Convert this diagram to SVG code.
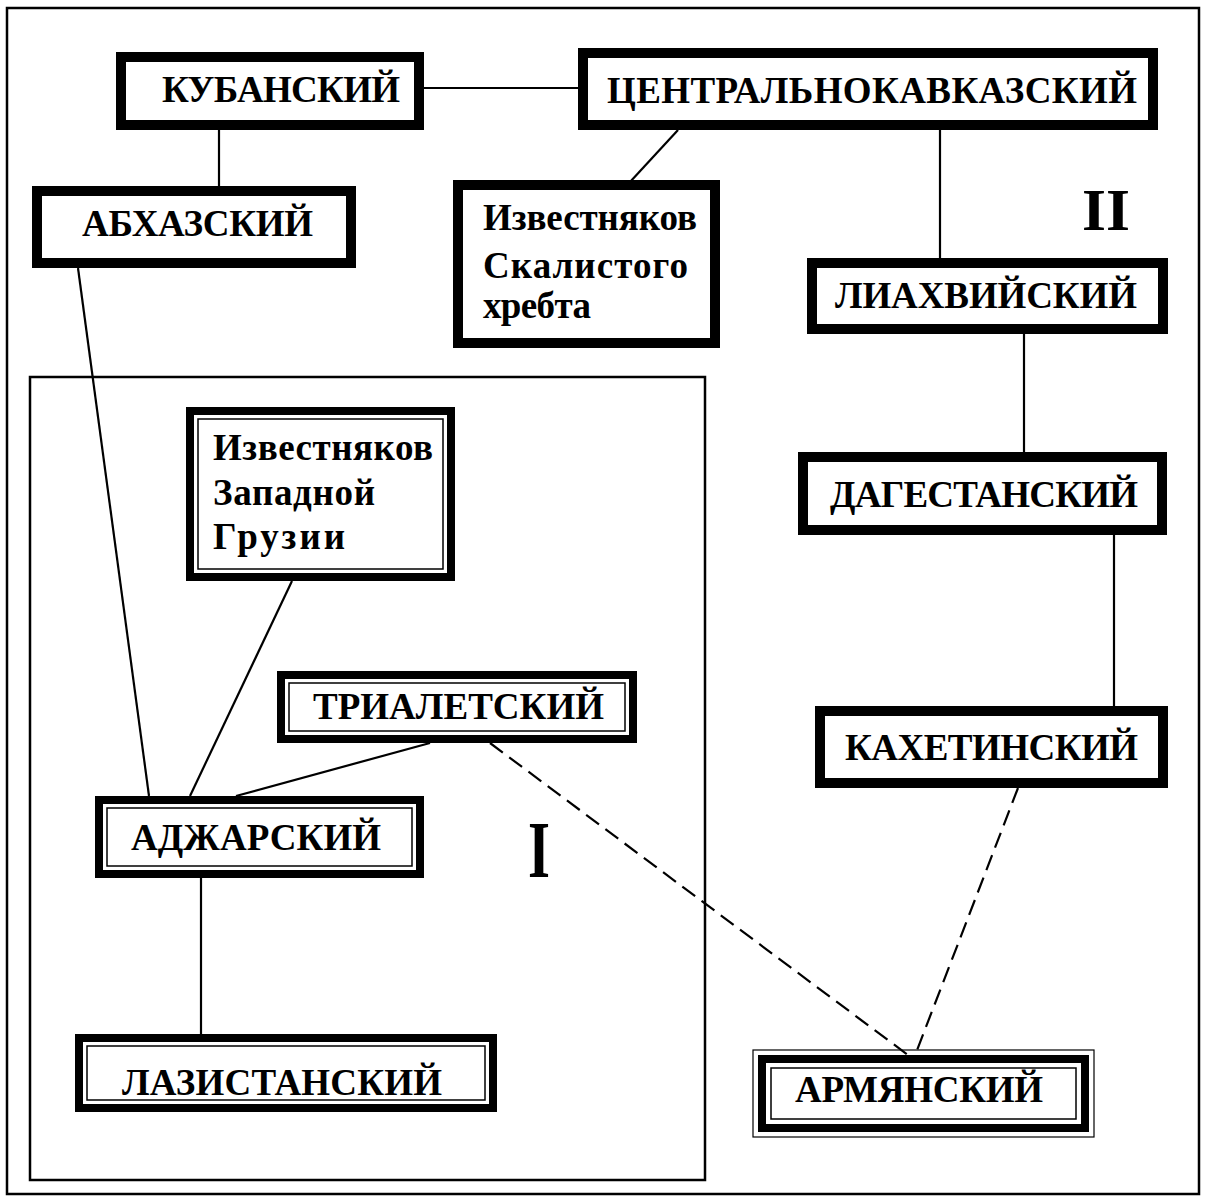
<svg xmlns="http://www.w3.org/2000/svg" width="1206" height="1202" viewBox="0 0 1206 1202">
<style>
.bg{fill:#fff}
.frame{fill:none;stroke:#000;stroke-width:2.5}
.thick{fill:#fff;stroke:#000;stroke-width:10}
.dbl{fill:#fff;stroke:#000;stroke-width:8}
.thin{fill:none;stroke:#000;stroke-width:1.5}
.hair{fill:none;stroke:#000;stroke-width:1.2}
.ln{stroke:#000;stroke-width:2.2;fill:none}
.dash{stroke:#000;stroke-width:2.2;fill:none;stroke-dasharray:16 8}
text{font-family:"Liberation Serif","Times New Roman",serif;font-weight:bold;font-size:37px;fill:#000}
.num{font-size:60px}
.num1{font-size:80px}
</style>
<rect class="bg" x="0" y="0" width="1206" height="1202"/>
<rect class="frame" x="7" y="8" width="1192" height="1186"/>
<rect class="frame" x="30" y="377" width="675" height="803"/>
<g id="connectors">
<line class="ln" x1="424" y1="88" x2="578" y2="88"/>
<line class="ln" x1="219" y1="130" x2="219" y2="186"/>
<line class="ln" x1="678" y1="130" x2="630" y2="182"/>
<line class="ln" x1="940" y1="130" x2="940" y2="258"/>
<line class="ln" x1="1024" y1="334" x2="1024" y2="452"/>
<line class="ln" x1="1114" y1="535" x2="1114" y2="706"/>
<line class="ln" x1="78" y1="268" x2="149" y2="796"/>
<line class="ln" x1="292" y1="581" x2="190" y2="796"/>
<line class="ln" x1="430" y1="743" x2="236" y2="796"/>
<line class="ln" x1="201" y1="878" x2="201" y2="1034"/>
<line class="dash" x1="490" y1="743" x2="912" y2="1058"/>
<line class="dash" x1="1018" y1="788" x2="914" y2="1058"/>
</g>
<g id="kuban">
<rect class="thick" x="121" y="57" width="298" height="68"/>
<text x="162" y="102" textLength="238" lengthAdjust="spacing">КУБАНСКИЙ</text>
</g>
<g id="central">
<rect class="thick" x="583" y="53" width="570" height="72"/>
<text x="607" y="103" textLength="530" lengthAdjust="spacing">ЦЕНТРАЛЬНОКАВКАЗСКИЙ</text>
</g>
<g id="abkhaz">
<rect class="thick" x="37" y="191" width="314" height="72"/>
<text x="82" y="236" textLength="231" lengthAdjust="spacing">АБХАЗСКИЙ</text>
</g>
<g id="skalisty">
<rect class="thick" x="458" y="185" width="257" height="158"/>
<text x="483" y="230" textLength="214" lengthAdjust="spacing">Известняков</text>
<text x="483" y="278" textLength="205" lengthAdjust="spacing">Скалистого</text>
<text x="483" y="318" textLength="108" lengthAdjust="spacing">хребта</text>
</g>
<g id="liakhvi">
<rect class="thick" x="812" y="263" width="351" height="66"/>
<text x="835" y="308" textLength="302" lengthAdjust="spacing">ЛИАХВИЙСКИЙ</text>
</g>
<g id="dagestan">
<rect class="thick" x="803" y="457" width="359" height="73"/>
<text x="830" y="507" textLength="308" lengthAdjust="spacing">ДАГЕСТАНСКИЙ</text>
</g>
<g id="kakheti">
<rect class="thick" x="820" y="711" width="343" height="72"/>
<text x="845" y="760" textLength="293" lengthAdjust="spacing">КАХЕТИНСКИЙ</text>
</g>
<g id="label-II">
<text class="num" x="1082" y="230" textLength="48" lengthAdjust="spacingAndGlyphs">II</text>
</g>
<g id="zapgruz">
<rect class="dbl" x="190" y="411" width="261" height="166"/>
<rect class="thin" x="198" y="419" width="245" height="150"/>
<text x="213" y="460" textLength="220" lengthAdjust="spacing">Известняков</text>
<text x="213" y="505" textLength="162" lengthAdjust="spacing">Западной</text>
<text x="213" y="549" textLength="132" lengthAdjust="spacing">Грузии</text>
</g>
<g id="trialeti">
<rect class="dbl" x="281" y="675" width="352" height="64"/>
<rect class="thin" x="289" y="683" width="336" height="48"/>
<text x="313" y="719" textLength="291" lengthAdjust="spacing">ТРИАЛЕТСКИЙ</text>
</g>
<g id="adjara">
<rect class="dbl" x="99" y="800" width="321" height="74"/>
<rect class="thin" x="107" y="808" width="305" height="58"/>
<text x="131" y="850" textLength="250" lengthAdjust="spacing">АДЖАРСКИЙ</text>
</g>
<g id="lazistan">
<rect class="dbl" x="79" y="1038" width="414" height="70"/>
<rect class="thin" x="87" y="1046" width="398" height="54"/>
<text x="122" y="1095" textLength="320" lengthAdjust="spacing">ЛАЗИСТАНСКИЙ</text>
</g>
<g id="armenia">
<rect class="hair" x="753" y="1050" width="341" height="87"/>
<rect class="dbl" x="762" y="1059" width="323" height="69"/>
<rect class="thin" x="771" y="1068" width="305" height="51"/>
<text x="795" y="1102" textLength="248" lengthAdjust="spacing">АРМЯНСКИЙ</text>
</g>
<g id="label-I">
<text class="num1" x="528" y="877" textLength="22" lengthAdjust="spacingAndGlyphs">I</text>
</g>
</svg>
